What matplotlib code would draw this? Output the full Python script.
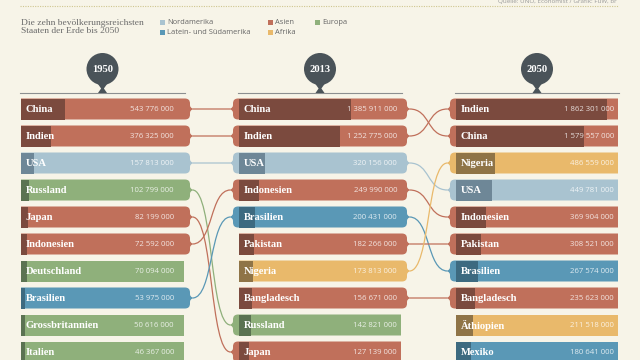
import matplotlib
matplotlib.use("Agg")
import matplotlib.pyplot as plt
from matplotlib.path import Path
from matplotlib.patches import PathPatch, Rectangle, Circle, Polygon

# data (population per year, top ten countries)
years = ["1950", "2013", "2050"]

countries_1950 = ["China", "Indien", "USA", "Russland", "Japan", "Indonesien",
                  "Deutschland", "Brasilien", "Grossbritannien", "Italien"]
pop_1950 = [543776000, 376325000, 157813000, 102799000, 82199000, 72592000,
            70094000, 53975000, 50616000, 46367000]

countries_2013 = ["China", "Indien", "USA", "Indonesien", "Brasilien", "Pakistan",
                  "Nigeria", "Bangladesch", "Russland", "Japan"]
pop_2013 = [1385911000, 1252775000, 320156000, 249990000, 200431000, 182266000,
            173813000, 156671000, 142821000, 127139000]

countries_2050 = ["Indien", "China", "Nigeria", "USA", "Indonesien", "Pakistan",
                  "Brasilien", "Bangladesch", "Äthiopien", "Mexiko"]
pop_2050 = [1862301000, 1579557000, 486559000, 449781000, 369904000, 308521000,
            267574000, 235623000, 211518000, 180641000]

region = {"China": "Asien", "Indien": "Asien", "Japan": "Asien", "Indonesien": "Asien",
          "Pakistan": "Asien", "Bangladesch": "Asien",
          "USA": "Nordamerika", "Mexiko": "Latein- und Südamerika",
          "Brasilien": "Latein- und Südamerika",
          "Russland": "Europa", "Deutschland": "Europa", "Grossbritannien": "Europa",
          "Italien": "Europa", "Nigeria": "Afrika", "Äthiopien": "Afrika"}

legend_regions = ["Nordamerika", "Latein- und Südamerika", "Asien", "Afrika", "Europa"]

colors = {"Nordamerika": ("#a9c3d0", "#6e8797"),
          "Latein- und Südamerika": ("#5a98b6", "#3d6a80"),
          "Asien": ("#c0705b", "#7b4a3e"),
          "Afrika": ("#e9b96b", "#8f7447"),
          "Europa": ("#8fb07b", "#5b7352")}

BG = "#f7f4e8"
SERIF = "Liberation Serif"
SANS = "Open Sans"

columns = [(countries_1950, pop_1950), (countries_2013, pop_2013), (countries_2050, pop_2050)]
col_x0 = [21, 239, 456]
col_x1 = [184, 401, 618]
val_x = [174, 397, 614]
row_y0, row_step, bar_h = 109, 27, 21
px_per_million = 0.081
cap, tip = 6, 2.5


def fmt(v):
    return f"{v:,}".replace(",", " ")


def bar_path(x0, x1, yc, h, lc, rc, r=5):
    top, bot = yc - h / 2, yc + h / 2
    verts, codes = [], []

    def M(p):
        verts.append(p); codes.append(Path.MOVETO)

    def L(p):
        verts.append(p); codes.append(Path.LINETO)

    def Q(c, p):
        verts.extend([c, p]); codes.extend([Path.CURVE3, Path.CURVE3])

    xl = x0 - cap if lc else x0
    xr = x1 + cap if rc else x1
    M((xl + r if lc else xl, top))
    if rc:
        L((xr - r, top)); Q((xr, top), (xr, top + r))
        L((xr, yc - 4)); Q((xr, yc - 1), (xr + tip, yc - 0.7))
        L((xr + tip, yc + 0.7)); Q((xr, yc + 1), (xr, yc + 4))
        L((xr, bot - r)); Q((xr, bot), (xr - r, bot))
    else:
        L((xr, top)); L((xr, bot))
    if lc:
        L((xl + r, bot)); Q((xl, bot), (xl, bot - r))
        L((xl, yc + 4)); Q((xl, yc + 1), (xl - tip, yc + 0.7))
        L((xl - tip, yc - 0.7)); Q((xl, yc - 1), (xl, yc - 4))
        L((xl, top + r)); Q((xl, top), (xl + r, top))
    else:
        L((xl, bot)); L((xl, top))
    verts.append((0, 0)); codes.append(Path.CLOSEPOLY)
    return Path(verts, codes)


fig = plt.figure(figsize=(6.4, 3.6), dpi=100)
fig.patch.set_facecolor(BG)
ax = fig.add_axes([0, 0, 1, 1])
ax.set_xlim(0, 640)
ax.set_ylim(360, 0)
ax.axis("off")

# header: source, dotted rule, title, legend
ax.text(617, 1.5, "Quelle: UNO, Economist / Grafik: FuW, br", ha="right", va="center",
        fontsize=4.5, color="#9a9a9a", family=SANS)
ax.plot([20, 618], [6, 6], color="#cfc68f", lw=0.8, ls=(0, (1, 1.2)))
ax.text(21, 27, "Die zehn bevölkerungsreichsten\nStaaten der Erde bis 2050", ha="left",
        va="center", fontsize=6.8, color="#6a6a6a", family=SERIF, linespacing=1.15)

legend_pos = [(160, 22.3), (160, 32.7), (268, 22.3), (268, 32.7), (315, 22.3)]
for reg, (lx, ly) in zip(legend_regions, legend_pos):
    ax.add_patch(Rectangle((lx, ly - 2.6), 5.2, 5.2, color=colors[reg][0], lw=0))
    ax.text(lx + 7.2, ly, reg, ha="left", va="center", fontsize=5.4,
            color="#666666", family=SANS)

rows = [row_y0 + row_step * i for i in range(10)]

# connectors between columns
for c in range(2):
    names_a, names_b = columns[c][0], columns[c + 1][0]
    xa = col_x1[c] + cap + tip
    xb = col_x0[c + 1] - cap - tip
    dx = xb - xa
    for i, name in enumerate(names_a):
        if name in names_b:
            j = names_b.index(name)
            ya, yb = rows[i], rows[j]
            p = Path([(xa, ya), (xa + 0.55 * dx, ya), (xb - 0.55 * dx, yb), (xb, yb)],
                     [Path.MOVETO, Path.CURVE4, Path.CURVE4, Path.CURVE4])
            ax.add_patch(PathPatch(p, fill=False, edgecolor=colors[region[name]][0],
                                   lw=0.9, zorder=1))

# columns of bars
for c, (names, pops) in enumerate(columns):
    x0, x1 = col_x0[c], col_x1[c]
    cx = (x0 + x1) / 2
    # year marker
    ax.plot([x0 - 1, x1 + 1], [93, 93], color="#8c8f90", lw=0.8, zorder=2)
    ax.add_patch(Polygon([(cx - 6, 82), (cx + 6, 82), (cx + 1.4, 88.5), (cx + 4.5, 93),
                          (cx - 4.5, 93), (cx - 1.4, 88.5)], closed=True,
                         color="#4a5359", lw=0, zorder=3))
    ax.add_patch(Circle((cx, 69), 16, color="#4a5359", lw=0, zorder=3))
    ax.text(cx, 69.5, years[c], ha="center", va="center", fontsize=7.6, color="white",
            fontweight="bold", family=SERIF, zorder=4)

    prev_names = columns[c - 1][0] if c > 0 else []
    next_names = columns[c + 1][0] if c < 2 else []
    for i, (name, pop) in enumerate(zip(names, pops)):
        yc = rows[i]
        light, dark = colors[region[name]]
        lc = name in prev_names
        rc = name in next_names
        ax.add_patch(PathPatch(bar_path(x0, x1, yc, bar_h, lc, rc), facecolor=light,
                               edgecolor="none", zorder=2))
        ax.add_patch(Rectangle((x0, yc - bar_h / 2), pop / 1e6 * px_per_million, bar_h,
                               facecolor=dark, edgecolor="none", zorder=2.5))
        ax.text(x0 + 4.5, yc + 0.3, name, ha="left", va="center", fontsize=7.6,
                color="white", fontweight="bold", family=SERIF, zorder=4)
        ax.text(val_x[c], yc + 0.3, fmt(pop), ha="right", va="center", fontsize=5.6,
                color="white", alpha=0.8, family=SANS, zorder=4)

fig.savefig("out.png", dpi=100, facecolor=BG)
